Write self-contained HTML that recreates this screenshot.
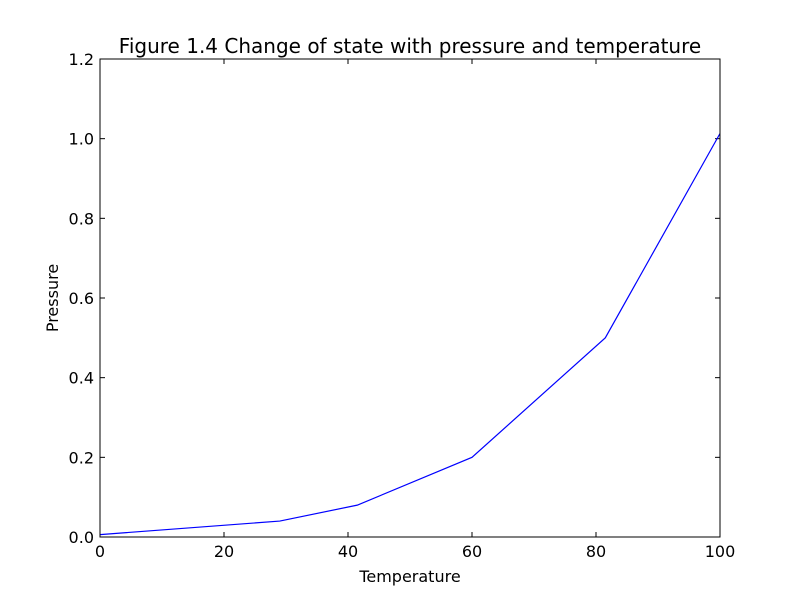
<!DOCTYPE html>
<html><head><meta charset="utf-8"><style>
body{margin:0;background:#fff;}
svg{display:block;font-family:"DejaVu Sans","Liberation Sans",sans-serif;}
</style></head><body>
<svg id="chart" width="800" height="597">
<rect width="800" height="597" fill="#fff"/>
<text x="410" y="53" text-anchor="middle" font-size="20">Figure 1.4 Change of state with pressure and temperature</text>
<g id="ticks"></g>
<path id="line" fill="none" stroke="#0000ff" stroke-width="1.2"/>
<rect x="100" y="59" width="620" height="478" fill="none" stroke="#000" stroke-width="1"/>
<text x="410" y="582" text-anchor="middle" font-size="16">Temperature</text>
<text transform="translate(58,298) rotate(-90)" text-anchor="middle" font-size="16">Pressure</text>
</svg>
<script>
const temps=[0,29,41.5,60,81.5,100];
const pressures=[0.006,0.04,0.08,0.2,0.5,1.013];
const xTicks=[0,20,40,60,80,100];
const yTicks=[0.0,0.2,0.4,0.6,0.8,1.0,1.2];
const L=100,R=720,T=59,B=537;
const xs=v=>L+(v-0)/(100-0)*(R-L);
const ys=v=>B-(v-0)/(1.2-0)*(B-T);
const NS='http://www.w3.org/2000/svg';
const g=document.getElementById('ticks');
function mk(tag,attrs){const e=document.createElementNS(NS,tag);for(const k in attrs)e.setAttribute(k,attrs[k]);return e;}
xTicks.forEach(v=>{
  const x=xs(v);
  const t1=mk('line',{x1:x,x2:x,y1:B,y2:B-5,stroke:'#000'});
  
  
  g.appendChild(t1);
  const t2=mk('line',{x1:x,x2:x,y1:T,y2:T+5,stroke:'#000'});
  
  
  g.appendChild(t2);
  const lb=mk('text',{x:x,y:B+20,'text-anchor':'middle','font-size':'16'});
  lb.textContent=String(v);
  
  
  g.appendChild(lb);
});
yTicks.forEach(v=>{
  const y=ys(v);
  const t1=mk('line',{x1:L,x2:L+5,y1:y,y2:y,stroke:'#000'});
  
  
  g.appendChild(t1);
  const t2=mk('line',{x1:R,x2:R-5,y1:y,y2:y,stroke:'#000'});
  
  
  g.appendChild(t2);
  const lb=mk('text',{x:L-6,y:y+6,'text-anchor':'end','font-size':'16'});
  lb.textContent=v.toFixed(1);
  
  
  g.appendChild(lb);
});
document.getElementById('line').setAttribute('d',temps.map((t,i)=>(i?'L':'M')+xs(t)+' '+ys(pressures[i])).join(' '));
</script>
</body></html>
